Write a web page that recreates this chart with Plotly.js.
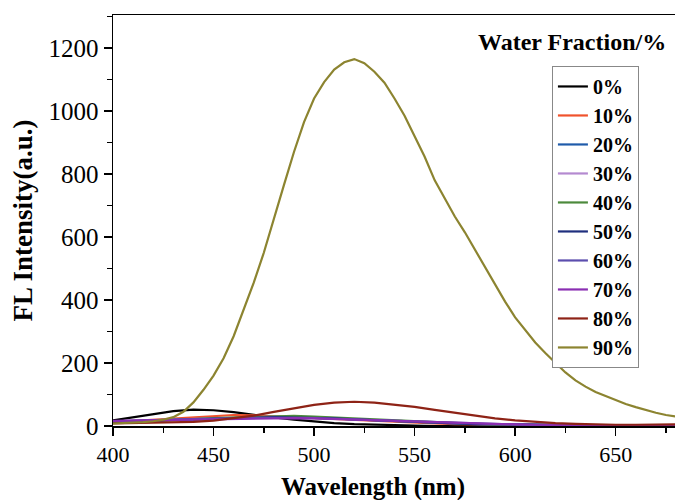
<!DOCTYPE html>
<html>
<head>
<meta charset="utf-8">
<script src="https://cdn.plot.ly/plotly-3.0.1.min.js"></script>
<style>html,body{margin:0;padding:0;background:#fff;}#chart{width:675px;height:500px;}</style>
</head>
<body>
<div id="chart"></div>
<script>
// Wavelength grid (nm) for low-intensity series
const wl10 = [400,410,420,430,440,450,460,470,480,490,500,510,520,530,540,550,560,570,580,590,600,610,620,630,640,650,660,670,680];
// Wavelength grid (nm) for 90% series
const wl5 = [400,405,410,415,420,425,430,435,440,445,450,455,460,465,470,475,480,485,490,495,500,505,510,515,520,525,530,535,540,545,550,555,560,565,570,575,580,585,590,595,600,605,610,615,620,625,630,635,640,645,650,655,660,665,670,675,680];

const labels = ["0%","10%","20%","30%","40%","50%","60%","70%","80%","90%"];

const f0  = [18,28,38,47,52,50,44,35,27,20,14,9,6,4,2,1,0,0,0,0,0,0,0,0,0,0,0,0,0];
const f10 = [12,16,20,24,28,32,35,34,31,28,25,21,18,15,12,10,8,6,5,4,3,3,2,2,2,1,1,1,1];
const f20 = [14,16,18,20,23,25,27,28,29,28,27,24,21,18,15,12,10,8,6,5,4,3,3,2,2,2,1,1,1];
const f30 = [15,17,19,21,24,26,28,29,30,29,28,25,22,19,16,13,11,9,7,5,4,3,3,2,2,2,1,1,1];
const f40 = [12,14,16,19,22,25,27,29,31,32,30,27,24,20,17,14,11,9,7,5,4,3,3,2,2,2,1,1,1];
const f50 = [13,15,17,19,22,24,26,27,28,27,26,24,21,18,15,12,10,8,6,5,4,3,3,2,2,2,1,1,1];
const f60 = [15,16,18,20,22,24,25,26,26,26,25,23,21,18,16,13,11,9,7,5,4,3,3,2,2,2,1,1,1];
const f70 = [16,17,19,21,22,23,24,25,25,25,24,22,20,18,16,13,11,9,7,6,5,4,3,3,2,2,1,1,1];
const f80 = [8,9,10,11,13,17,24,33,45,57,67,74,77,74,68,61,51,42,32,24,18,13,9,7,5,4,4,4,5];
const f90 = [8,9,10,12,15,20,28,45,75,115,160,215,285,370,455,550,660,765,870,965,1040,1092,1132,1155,1165,1152,1125,1090,1040,985,920,855,780,720,665,615,560,505,448,395,345,305,265,232,200,170,145,125,108,95,82,70,60,50,42,35,30];

const colors = ["#000000","#F0522C","#1F5BAA","#B48AD0","#4C8A3C","#1F2F7E","#5C4EAE","#8A2EB2","#8E2316","#8C8430"];
const ys = [f0,f10,f20,f30,f40,f50,f60,f70,f80,f90];

const traces = ys.map((y,i)=>({
  x: i===9 ? wl5 : wl10,
  y: y,
  name: labels[i],
  type: "scatter",
  mode: "lines",
  line: {color: colors[i], width: 2.2}
}));

const serif = "Liberation Serif, Times New Roman, serif";

const layout = {
  width: 675, height: 500,
  margin: {l: 113, r: 0, t: 15, b: 74},
  paper_bgcolor: "#fff", plot_bgcolor: "#fff",
  showlegend: true,
  xaxis: {
    range: [400, 679.5], dtick: 50, tick0: 400,
    showgrid: false, zeroline: false,
    showline: true, linecolor: "#000", linewidth: 1.5, mirror: true,
    ticks: "outside", ticklen: 8, tickwidth: 1.5, tickcolor: "#000",
    minor: {dtick: 25, ticks: "outside", ticklen: 5, tickwidth: 1.5, tickcolor: "#000"},
    tickfont: {family: serif, size: 22, color: "#000"}
  },
  yaxis: {
    range: [0, 1305], dtick: 200, tick0: 0,
    showgrid: false, zeroline: false,
    showline: true, linecolor: "#000", linewidth: 1.5,
    ticks: "outside", ticklen: 8, tickwidth: 1.5, tickcolor: "#000",
    minor: {dtick: 100, ticks: "outside", ticklen: 5, tickwidth: 1.5, tickcolor: "#000"},
    tickfont: {family: serif, size: 25, color: "#000"},
    title: {text: "<b>FL Intensity(a.u.)</b>", font: {family: serif, size: 27, color: "#000"}, standoff: 8}
  },
  legend: {
    x: 0.781, y: 0.876, xanchor: "left", yanchor: "top",
    bgcolor: "#fff", bordercolor: "#888", borderwidth: 1,
    font: {family: serif, size: 20, color: "#000", weight: "bold"},
    tracegroupgap: 0
  },
  annotations: [{
    text: "<b>Water Fraction/%</b>",
    xref: "paper", yref: "paper",
    x: 0.816, y: 0.935, xanchor: "center", yanchor: "middle",
    showarrow: false,
    font: {family: serif, size: 24, color: "#000"}
  },{
    text: "<b>Wavelength (nm)</b>",
    xref: "paper", yref: "paper",
    x: 0.4626, y: -0.148, xanchor: "center", yanchor: "middle",
    showarrow: false,
    font: {family: serif, size: 25, color: "#000"}
  }]
};

Plotly.newPlot("chart", traces, layout, {displayModeBar: false, staticPlot: true});
</script>
</body>
</html>
